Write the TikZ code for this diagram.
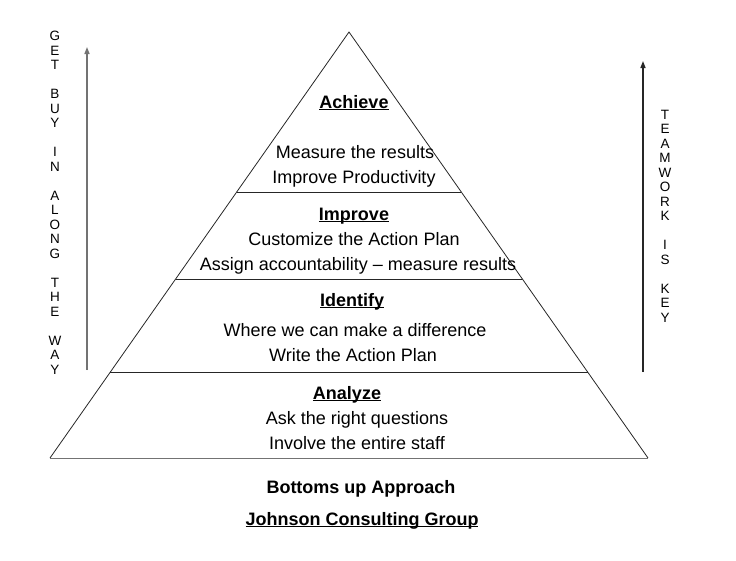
\documentclass[tikz,border=0pt]{standalone}
\usepackage{fontspec}
\setmainfont{Liberation Sans}
\usetikzlibrary{arrows.meta}
\newcommand{\ulsm}[1]{\underline{\smash{#1}}}
\begin{document}
\begin{tikzpicture}[x=1pt,y=-1pt,
  body/.style={font=\fontsize{18}{25}\selectfont, anchor=base, inner sep=0pt},
  ttl/.style={font=\fontsize{18}{25}\selectfont\bfseries, anchor=base, inner sep=0pt},
  vert/.style={font=\fontsize{13.5}{14.5}\selectfont, align=center, anchor=north, inner sep=0pt},
  edge/.style={draw=black!85, line width=0.8pt},
  uparrow/.style={line width=1.4pt, -{Triangle[length=7pt,width=5pt]}}]
\useasboundingbox (0,0) rectangle (736,560);
% pyramid
\coordinate (apex) at (349,32);
\coordinate (bl) at (50,458);
\coordinate (br) at (648,458);
\draw[edge] (bl) -- (apex) -- (br);
\draw[draw=black!55, line width=0.8pt] (bl) -- (br);
\coordinate (l1) at (236.7,192); \coordinate (r1) at (461.3,192);
\coordinate (l2) at (175.6,279); \coordinate (r2) at (522.4,279);
\coordinate (l3) at (110.4,372); \coordinate (r3) at (587.6,372);
\draw[edge] (l1) -- (r1);
\draw[edge] (l2) -- (r2);
\draw[edge] (l3) -- (r3);
% tier texts
\node[ttl] (achieve) at (354,108) {\underline{Achieve}};
\node[body] (a1) at (355,158) {Measure the results};
\node[body] (a2) at (354,183) {Improve Productivity};
\node[ttl] (improve) at (354,220) {\ulsm{Improve}};
\node[body] (i1) at (354,245) {Customize the Action Plan};
\node[body] (i2) at (358,270) {Assign accountability -- measure results};
\node[ttl] (identify) at (352,306) {\ulsm{Identify}};
\node[body] (d1) at (355,336) {Where we can make a difference};
\node[body] (d2) at (353,361) {Write the Action Plan};
\node[ttl] (analyze) at (347,399) {\ulsm{Analyze}};
\node[body] (n1) at (357,424) {Ask the right questions};
\node[body] (n2) at (357,449) {Involve the entire staff};
\node[ttl] (bottoms) at (361,493) {Bottoms up Approach};
\node[ttl] (johnson) at (362,525) {\ulsm{Johnson Consulting Group}};
% side texts
\node[vert] (left) at (55,31) {G\\E\\T\\\mbox{}\\B\\U\\Y\\\mbox{}\\I\\N\\\mbox{}\\A\\L\\O\\N\\G\\\mbox{}\\T\\H\\E\\\mbox{}\\W\\A\\Y};
\node[vert] (right) at (665,110) {T\\E\\A\\M\\W\\O\\R\\K\\\mbox{}\\I\\S\\\mbox{}\\K\\E\\Y};
% arrows
\coordinate (la0) at (87,370); \coordinate (la1) at (87,47);
\coordinate (ra0) at (643,372); \coordinate (ra1) at (643,61);
\draw[uparrow, draw=black!55, fill=black!70] (la0) -- (la1);
\draw[uparrow, draw=black!85, fill=black] (ra0) -- (ra1);
\end{tikzpicture}
\end{document}
